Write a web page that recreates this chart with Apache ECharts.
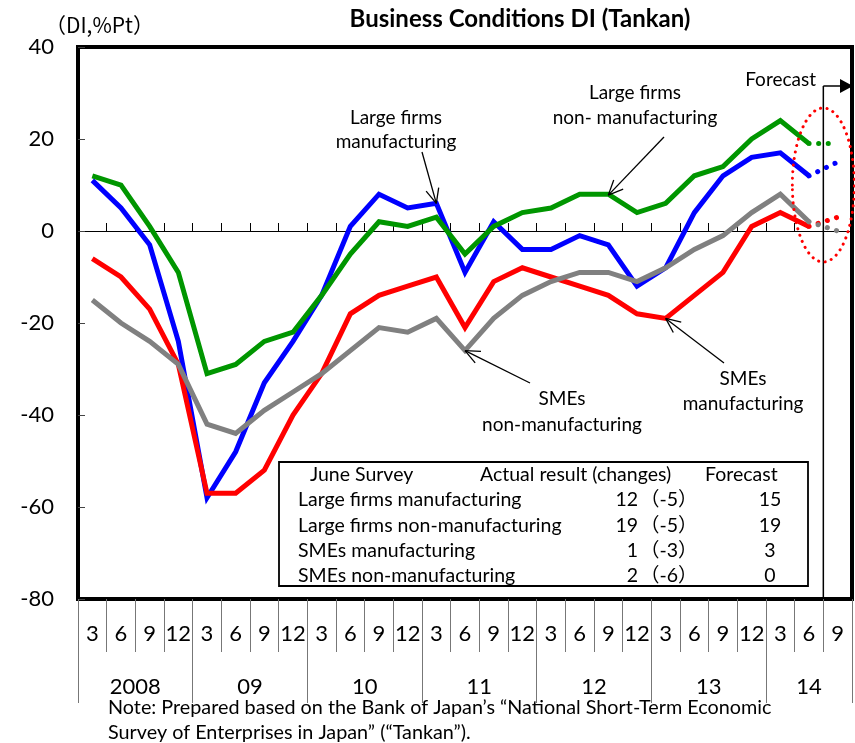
<!DOCTYPE html>
<html><head><meta charset="utf-8">
<script src="https://cdn.jsdelivr.net/npm/echarts@6/dist/echarts.min.js"></script>
<style>html,body{margin:0;padding:0;background:#fff;}#c{width:855px;height:743px;}</style>
</head><body><div id="c"></div>
<script>
// ---------------- DATA ----------------
const quarters = ['3','6','9','12','3','6','9','12','3','6','9','12','3','6','9','12','3','6','9','12','3','6','9','12','3','6','9'];
const years = ['2008','09','10','11','12','13','14'];
const quartersPerYear = [4,4,4,4,4,4,3];
const seriesNames = ['Large firms manufacturing','Large firms non-manufacturing','SMEs manufacturing','SMEs non-manufacturing'];
const largeMfg    = [11,5,-3,-24,-58,-48,-33,-24,-14,1,8,5,6,-9,2,-4,-4,-1,-3,-12,-8,4,12,16,17,12];
const largeNonMfg = [12,10,1,-9,-31,-29,-24,-22,-14,-5,2,1,3,-5,1,4,5,8,8,4,6,12,14,20,24,19];
const smeMfg      = [-6,-10,-17,-29,-57,-57,-52,-40,-31,-18,-14,-12,-10,-21,-11,-8,-10,-12,-14,-18,-19,-14,-9,1,4,1];
const smeNonMfg   = [-15,-20,-24,-29,-42,-44,-39,-35,-31,-26,-21,-22,-19,-26,-19,-14,-11,-9,-9,-11,-8,-4,-1,4,8,2];
const forecastSep = [15,19,3,0];
const yMin = -80, yMax = 40, yStep = 20;

// ---------------- CHART ----------------
const FONT = 'Lato, "Noto Sans CJK JP", sans-serif';
const colors = ['#0000FF','#009600','#FF0000','#808080'];
const allSeries = [largeMfg, largeNonMfg, smeMfg, smeNonMfg];
const drawOrder = [1,0,2,3];

// year boundaries / centers on a 0..N value scale
const yearTicks = [0]; const yearCenters = [];
quartersPerYear.forEach(n => { const s = yearTicks[yearTicks.length-1]; yearCenters.push(s + n/2); yearTicks.push(s + n); });

const series = [];
drawOrder.forEach(k => {
  const d = allSeries[k];
  series.push({name: seriesNames[k], type:'line', xAxisIndex:0, yAxisIndex:0, data:d, symbol:'none',
    lineStyle:{color:colors[k], width:5, join:'miter'}, z:3+k, silent:true, animation:false});
  const fd = new Array(d.length-1).fill(null).concat([d[d.length-1], forecastSep[k]]);
  series.push({name: seriesNames[k]+' forecast', type:'line', xAxisIndex:0, yAxisIndex:0, data:fd, symbol:'none', connectNulls:false,
    lineStyle:{color:colors[k], width:5, type:[0.1, 9.5], cap:'round'}, z:3+k, silent:true, animation:false});
});

const option = {
  animation:false,
  backgroundColor:'#fff',
  grid:{left:78, top:47, width:774, height:552, show:true, borderColor:'#000', borderWidth:4, containLabel:false, outerBoundsMode:'none'},
  xAxis:[
    {type:'category', data:quarters, boundaryGap:true, position:'bottom',
     axisLine:{show:true, onZero:true, lineStyle:{color:'#000', width:1}},
     axisTick:{show:true, inside:true, length:8, lineStyle:{color:'#000', width:1}},
     axisLabel:{show:false}, splitLine:{show:false}},
    {type:'category', data:quarters, boundaryGap:true, position:'bottom',
     axisLine:{show:false, onZero:false},
     axisTick:{show:true, length:53, lineStyle:{color:'#777', width:1}},
     axisLabel:{show:true, margin:24, fontSize:22, color:'#000', fontFamily:FONT, interval:0}, splitLine:{show:false}},
    {type:'value', min:0, max:quarters.length, position:'bottom',
     axisLine:{show:false, onZero:false}, splitLine:{show:false},
     axisTick:{show:true, customValues:yearTicks, length:104, lineStyle:{color:'#777', width:1}},
     axisLabel:{show:true, customValues:yearCenters, margin:77, fontSize:22, color:'#000', fontFamily:FONT,
       formatter: v => { const i = yearCenters.findIndex(c => Math.abs(c - v) < 1e-6); return i >= 0 ? years[i] : ''; }}}
  ],
  yAxis:{type:'value', min:yMin, max:yMax, interval:yStep,
    axisLine:{show:true, lineStyle:{color:'#000', width:4}},
    axisTick:{show:true, inside:true, length:7, lineStyle:{color:'#444', width:1}},
    axisLabel:{fontSize:22, margin:24, color:'#000', fontFamily:FONT},
    splitLine:{show:false}},
  series: series
};

const chart = echarts.init(document.getElementById('c'), null, {renderer:'canvas'});
chart.setOption(option);

// ---------------- ANNOTATIONS ----------------
const px = (i, v) => chart.convertToPixel({xAxisIndex:0, yAxisIndex:0}, [i, v]);
function txt(text, x, y, size, align, extra) {
  return {type:'text', z:100, style:Object.assign({text:text, x:x, y:y, font:size+'px '+FONT, fill:'#000',
    textAlign:align||'left', textVerticalAlign:'middle'}, extra||{})};
}
function seg(x1,y1,x2,y2,w,color,dash){
  return {type:'line', z:100, shape:{x1:x1,y1:y1,x2:x2,y2:y2}, style:{stroke:color||'#000', lineWidth:w||1.3, lineDash:dash||null}};
}
function arrow(fx, fy, tip){
  const tx = tip[0], ty = tip[1];
  const ang = Math.atan2(fy-ty, fx-tx), L = 16, a = 0.42;
  return [seg(fx,fy,tx,ty), seg(tx,ty,tx+L*Math.cos(ang+a),ty+L*Math.sin(ang+a)), seg(tx,ty,tx+L*Math.cos(ang-a),ty+L*Math.sin(ang-a))];
}

const g = [];
// title & unit
g.push(txt('Business Conditions DI (Tankan)', 520, 19, 24, 'center', {font:'bold 24px '+FONT}));
g.push(txt('（DI,%Pt）', 45, 25, 21, 'left', {font:'21px "Noto Sans CJK JP", Lato, sans-serif'}));

// series labels + arrows
g.push(txt('Large firms', 396, 118, 19, 'center'));
g.push(txt('manufacturing', 396, 142, 19, 'center'));
g.push(...arrow(422, 152, px(12, largeMfg[12])));

g.push(txt('Large firms', 635, 93, 19, 'center'));
g.push(txt('non- manufacturing', 635, 118, 19, 'center'));
g.push(...arrow(664, 137, px(18.35, 7.8)));

g.push(txt('SMEs', 743, 379, 19, 'center'));
g.push(txt('manufacturing', 743, 404, 19, 'center'));
g.push(...arrow(724, 363, px(20.1, smeMfg[20])));

g.push(txt('SMEs', 562, 399, 19, 'center'));
g.push(txt('non-manufacturing', 562, 425, 19, 'center'));
g.push(...arrow(530, 383, px(13, smeNonMfg[13])));

// forecast boundary
const n = quarters.length;
const bx = (px(n-2, 0)[0] + px(n-1, 0)[0]) / 2;
const yBottom = px(0, yMin)[1];
g.push(seg(bx, 86, bx, yBottom, 1.5, '#000'));
g.push(seg(bx, 86, 841, 86, 1.5, '#000'));
g.push({type:'polygon', z:100, shape:{points:[[840,79],[853,86],[840,93]]}, style:{fill:'#000'}});
g.push(txt('Forecast', 816, 80, 19, 'right'));
const ec = px(n-1, 10);
g.push({type:'ellipse', z:100, shape:{cx:bx, cy:ec[1], rx:31, ry:77},
  style:{fill:'none', stroke:'#FF0000', lineWidth:3, lineDash:[0.1,6.5], lineCap:'round'}});

// table
g.push({type:'rect', z:90, shape:{x:279, y:462, width:529, height:124}, style:{fill:'#fff', stroke:'#000', lineWidth:1.8}});
const rowY = [475, 500, 526, 551, 576];
const TF = 19.5;
g.push(txt('June Survey', 310, rowY[0], TF));
g.push(txt('Actual result (changes)', 480, rowY[0], TF));
g.push(txt('Forecast', 705, rowY[0], TF));
seriesNames.forEach((nm, k) => {
  const d = allSeries[k];
  const last = d[d.length-1], chg = last - d[d.length-2];
  const y = rowY[k+1];
  g.push(txt(nm, 298, y, TF));
  g.push(txt(String(last), 638, y, TF, 'right'));
  g.push(txt('（' + chg + '）', 640, y, TF, 'left'));
  g.push(txt(String(forecastSep[k]), 770, y, TF, 'center'));
});

// note
g.push(txt('Note: Prepared based on the Bank of Japan’s “National Short-Term Economic', 108, 708, 19.8));
g.push(txt('Survey of Enterprises in Japan” (“Tankan”).', 108, 733, 19.8));

chart.setOption({graphic:{elements:g}});
</script></body></html>
